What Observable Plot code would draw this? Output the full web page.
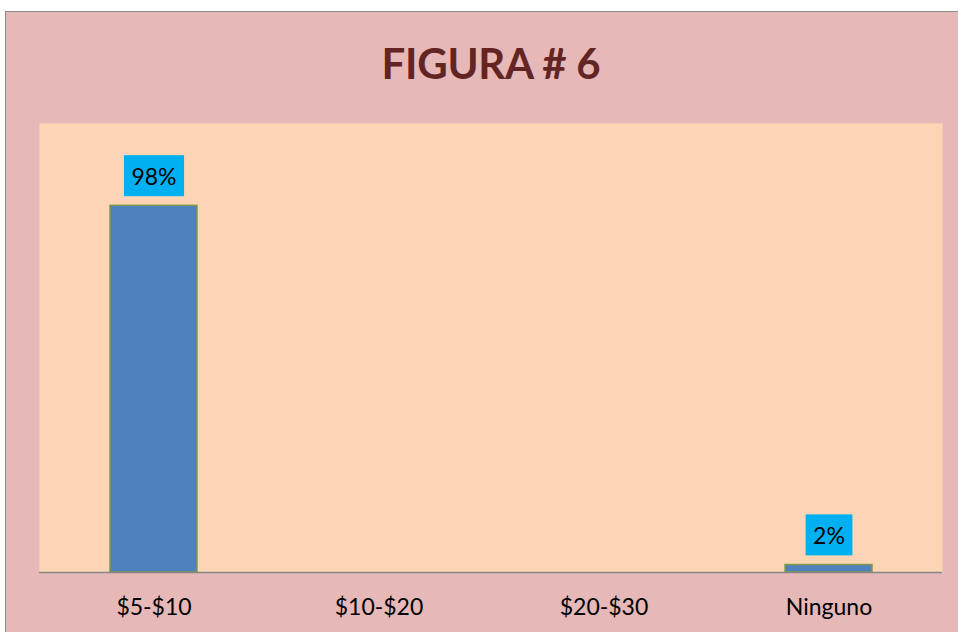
<!DOCTYPE html>
<html>
<head>
<meta charset="utf-8">
<script src="https://cdn.jsdelivr.net/npm/d3@7"></script>
<script src="https://cdn.jsdelivr.net/npm/@observablehq/plot@0.6"></script>
<style>
  html, body { margin: 0; padding: 0; background: #fff; overflow: hidden; width: 958px; height: 632px; }
  #chart { position: absolute; left: 5px; top: 11px; width: 980px; height: 650px;
           background: #E6B8B7; border: 1px solid #8c8c8c; box-sizing: border-box; }
  #title { position: absolute; left: 0; top: 26px; width: 970px; text-align: center;
           font-family: Lato, "Open Sans", sans-serif; font-weight: bold; font-size: 42px;
           color: #632523; letter-spacing: -0.3px; }
  #plot { position: absolute; left: 0px; top: 88px; }
</style>
</head>
<body>
<div id="chart">
  <div id="title">FIGURA # 6</div>
  <div id="plot"></div>
</div>
<script>
const categories = ["$5-$10", "$10-$20", "$20-$30", "Ninguno"];
const values = [98, 0, 0, 2];
const labels = ["98%", "", "", "2%"];

const data = categories.map((c, i) => ({ cat: c, value: values[i], label: labels[i] }));
const shown = data.filter(d => d.value > 0);

const chart = Plot.plot({
  width: 952,
  height: 530,
  marginLeft: 33,
  marginRight: 16,
  marginTop: 23,
  marginBottom: 58,
  style: { background: "transparent", fontFamily: "Lato, 'Open Sans', sans-serif", color: "#000" },
  x: { domain: categories, paddingInner: 0.615, paddingOuter: 0.3075, label: null,
       tickSize: 0, tickPadding: 26 },
  y: { domain: [0, 120], axis: null },
  marks: [
    Plot.frame({ fill: "#FCD5B4", stroke: "none" }),
    Plot.barY(shown, { x: "cat", y: "value", fill: "#4F81BD", stroke: "#7F9A48", strokeWidth: 1.5 }),
    Plot.ruleY([0], { stroke: "#868686", strokeWidth: 1.5 }),
    Plot.text(shown, { x: "cat", y: "value", text: "label", dy: -28.5, lineAnchor: "middle",
                       fontSize: 23, fill: "#000", className: "vlabel" }),
    Plot.axisX({ tickSize: 0, tickPadding: 26, fontSize: 23, color: "#000", label: null })
  ]
});
document.getElementById("plot").appendChild(chart);

// draw cyan boxes behind value labels
chart.querySelectorAll(".vlabel text").forEach(t => {
  const bb = t.getBBox();
  const cy = bb.y + bb.height / 2;
  const rect = document.createElementNS("http://www.w3.org/2000/svg", "rect");
  rect.setAttribute("x", bb.x - 7.5);
  rect.setAttribute("y", cy - 20.5);
  rect.setAttribute("width", bb.width + 15);
  rect.setAttribute("height", 41);
  rect.setAttribute("fill", "#00B0F0");
  const tr = t.getAttribute("transform");
  if (tr) rect.setAttribute("transform", tr);
  t.parentNode.insertBefore(rect, t);
});
</script>
</body>
</html>
